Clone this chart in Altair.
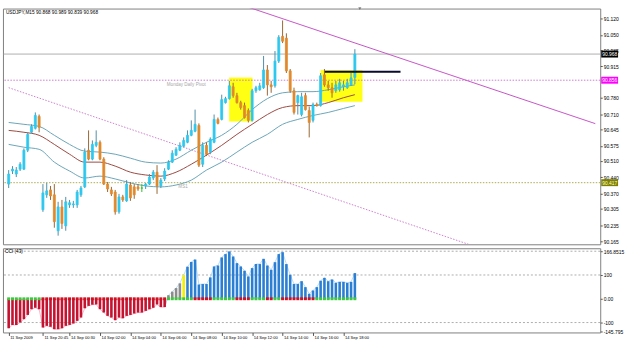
import altair as alt
import pandas as pd

# ---------------- data ----------------
bar_index = list(range(92))
open_ = [90.411, 90.467, 90.454, 90.475, 90.475, 90.556, 90.633, 90.650, 90.701,
         90.301, 90.365, 90.386, 90.365, 90.211, 90.313, 90.232, 90.322, 90.322, 90.322, 90.365, 90.399,
         90.556, 90.518, 90.577, 90.590, 90.518, 90.411, 90.386, 90.377, 90.292, 90.356, 90.339, 90.407, 90.399, 90.399, 90.394,
         90.403, 90.411, 90.437, 90.462, 90.403, 90.433, 90.475, 90.505, 90.535, 90.556, 90.573, 90.590, 90.620, 90.637,
         90.662, 90.496, 90.577, 90.548, 90.590, 90.688, 90.688, 90.760, 90.777, 90.828,
         90.790, 90.760, 90.747, 90.726, 90.684, 90.811, 90.815, 90.824, 90.900, 90.836,
         90.832, 90.938, 91.044, 91.036, 90.896, 90.811, 90.760, 90.709, 90.790, 90.726,
         90.684, 90.752, 90.747, 90.879, 90.836, 90.824, 90.811, 90.815, 90.828, 90.824, 90.836, 90.868]
high_ = [90.471, 90.488, 90.484, 90.505, 90.564, 90.633, 90.667, 90.718, 90.709,
         90.411, 90.416, 90.403, 90.411, 90.335, 90.343, 90.356, 90.343, 90.339, 90.386, 90.403, 90.564,
         90.641, 90.598, 90.641, 90.598, 90.526, 90.420, 90.399, 90.386, 90.369, 90.365, 90.428, 90.420, 90.411, 90.411, 90.411,
         90.416, 90.454, 90.471, 90.492, 90.437, 90.479, 90.513, 90.556, 90.569, 90.590, 90.611, 90.641, 90.684, 90.730,
         90.671, 90.590, 90.590, 90.611, 90.709, 90.696, 90.794, 90.785, 90.853, 90.845,
         90.802, 90.768, 90.760, 90.735, 90.819, 90.832, 90.845, 90.960, 90.921, 90.853,
         90.981, 91.049, 91.112, 91.057, 90.904, 90.824, 90.794, 90.802, 90.802, 90.743,
         90.760, 90.760, 90.887, 90.904, 90.853, 90.845, 90.853, 90.862, 90.853, 90.862, 90.887, 90.989]
low_ = [90.394, 90.454, 90.441, 90.467, 90.471, 90.548, 90.628, 90.645, 90.633,
        90.292, 90.352, 90.343, 90.224, 90.190, 90.219, 90.211, 90.309, 90.309, 90.309, 90.356, 90.394,
        90.513, 90.513, 90.569, 90.513, 90.407, 90.377, 90.360, 90.280, 90.284, 90.335, 90.335, 90.339, 90.348, 90.382, 90.377,
        90.390, 90.407, 90.428, 90.369, 90.394, 90.424, 90.471, 90.501, 90.531, 90.552, 90.569, 90.586, 90.616, 90.633,
        90.484, 90.484, 90.531, 90.539, 90.586, 90.667, 90.684, 90.756, 90.773, 90.781,
        90.756, 90.730, 90.692, 90.675, 90.679, 90.802, 90.811, 90.819, 90.790, 90.802,
        90.824, 90.930, 91.015, 90.887, 90.802, 90.709, 90.709, 90.701, 90.726, 90.611,
        90.675, 90.743, 90.743, 90.828, 90.811, 90.781, 90.802, 90.807, 90.811, 90.819, 90.832, 90.839]
close_ = [90.454, 90.475, 90.471, 90.496, 90.556, 90.624, 90.658, 90.705, 90.654,
          90.373, 90.382, 90.360, 90.250, 90.313, 90.242, 90.335, 90.331, 90.326, 90.377, 90.394, 90.548,
          90.518, 90.581, 90.590, 90.518, 90.411, 90.390, 90.369, 90.292, 90.356, 90.343, 90.411, 90.352, 90.365, 90.390, 90.394,
          90.411, 90.441, 90.462, 90.403, 90.428, 90.467, 90.505, 90.543, 90.560, 90.577, 90.598, 90.620, 90.641, 90.667,
          90.492, 90.577, 90.539, 90.603, 90.688, 90.671, 90.773, 90.777, 90.832, 90.790,
          90.760, 90.739, 90.696, 90.684, 90.811, 90.824, 90.832, 90.900, 90.836, 90.828,
          90.938, 91.040, 91.023, 90.896, 90.811, 90.718, 90.790, 90.785, 90.730, 90.675,
          90.752, 90.747, 90.875, 90.836, 90.824, 90.802, 90.836, 90.845, 90.836, 90.845, 90.866, 90.968]

cci_values = [-124, -110, -110, -100, -86, -68, -44, -38, -44,
              -121, -114, -118, -128, -128, -124, -114, -110, -104, -93, -79, -40,
              -30, -25, -24, -44, -58, -72, -79, -90, -79, -82, -72, -68, -62, -58, -58, -51, -44, -38, -24, -35, -35,
              15, 30, 45, 65, 100, 135, 155, 165, 60,
              62, 62, 90, 136, 140, 174, 188, 199, 178, 150, 136, 118, 94, 129, 146, 146, 168, 140, 122, 154,
              188, 196, 146, 101, 62, 62, 74, 49, 21, 35, 49, 76, 88, 74, 81, 67, 71, 71, 67, 71, 108]
cci_zone = ["neg"] * 42 + ["weak"] * 4 + ["turn"] + ["pos"] * 45
cci_signal = (["up"] * 9 + ["dn"] * 33 + ["up"] * 7 + ["dn"] * 5 + ["up"] * 6 + ["dn"] * 4
              + ["up"] * 4 + ["dn"] * 2 + ["up"] * 2 + ["dn"] * 9 + ["up"] * 11)

ma_index = list(range(0, 89, 4)) + [91]
ma_mid = [90.641, 90.633, 90.620, 90.581, 90.539, 90.505, 90.505, 90.488, 90.462, 90.450, 90.445, 90.462,
          90.496, 90.535, 90.577, 90.624, 90.667, 90.709, 90.739, 90.747, 90.747, 90.760, 90.781, 90.794]
ma_upper = [90.675, 90.667, 90.658, 90.620, 90.581, 90.552, 90.548, 90.539, 90.522, 90.505, 90.501, 90.518,
            90.556, 90.590, 90.620, 90.667, 90.730, 90.777, 90.802, 90.807, 90.807, 90.815, 90.828, 90.836]
ma_lower = [90.581, 90.569, 90.560, 90.505, 90.467, 90.437, 90.445, 90.433, 90.416, 90.403, 90.399, 90.407,
            90.428, 90.471, 90.505, 90.548, 90.590, 90.624, 90.667, 90.688, 90.705, 90.718, 90.735, 90.747]

# 90.845 is hidden under the pivot price tag in the reference
price_ticks = [91.120, 91.050, 90.985, 90.915, 90.780, 90.710, 90.645,
               90.575, 90.510, 90.440, 90.370, 90.305, 90.235, 90.165]
time_tick_index = [0, 9, 16, 24, 32, 40, 48, 56, 64, 72, 80, 88]
time_tick_labels = ["11 Sep 2009", "11 Sep 20:45", "14 Sep 00:30", "14 Sep 02:00", "14 Sep 04:00",
                    "14 Sep 06:00", "14 Sep 08:00", "14 Sep 10:00", "14 Sep 12:00", "14 Sep 14:00",
                    "14 Sep 16:00", "14 Sep 18:00"]
cci_axis_values = [200, 100, 0, -100, -137.5]
cci_levels = [200, 100, -100]

title_text = "USDJPY,M15  90.868 90.989 90.839 90.968"
last_price = 90.968
pivot_price = 90.856
ms1_price = 90.417
pivot_label_index = 51.8
ms1_label_index = 44.6
trend_index = [62.6, 154.2]
trend_price = [91.171, 90.670]
channel_index = [0.0, 154.2]
channel_price = [90.824, 89.968]
box_x1 = [57.95, 82.0]
box_x2 = [64.1, 93.0]
box_low = [90.679, 90.764]
box_high = [90.868, 90.900]
level_x1 = [83.1]
level_x2 = [103.0]
level_price = [90.892]
shift_marker_index = [92.3]

# ---------------- chart ----------------
FONT = "Liberation Sans"
XS = alt.Scale(domain=[-0.2, 154.2], nice=False, zero=False)
PY = alt.Scale(domain=[90.153, 91.163], nice=False, zero=False)
CY = alt.Scale(domain=[-141.7, 212.5], nice=False, zero=False)
W, H_MAIN, H_CCI = 603, 238, 85

price_axis = alt.Axis(orient="right", values=price_ticks, format=".3f", labelFontSize=5,
                      labelFont=FONT, labelColor="#000000", tickSize=2, tickColor="#555555",
                      labelPadding=1, domain=False, grid=False, title=None,
                      labelOverlap=False, labelFlush=False)

label_expr_time = ("[" + ",".join("'%s'" % s for s in time_tick_labels) + "][indexof(["
                   + ",".join(str(v) for v in time_tick_index) + "], datum.value)]")
time_axis = alt.Axis(values=time_tick_index, labelExpr=label_expr_time, labelAlign="left",
                     labelBaseline="top", labelFontSize=4.1, labelFont=FONT, labelColor="#000000",
                     tickSize=3, tickColor="#555555", labelPadding=0, labelOffset=1, domain=False,
                     grid=False, title=None, labelOverlap=False, labelFlush=False)
cci_axis = alt.Axis(orient="right", values=cci_axis_values,
                    labelExpr="datum.value == 200 ? '166.8515' : datum.value == 0 ? '0.00' : "
                              "datum.value < -120 ? '-145.795' : datum.value == -100 ? '-100' : '100'",
                    labelFontSize=5, labelFont=FONT, labelColor="#000000", tickSize=2,
                    tickColor="#555555", labelPadding=1, domain=False, grid=False, title=None,
                    labelOverlap=False, labelFlush=False)


def xq(f):
    return alt.X(f, type="quantitative", scale=XS, axis=None)


def py(f):
    return alt.Y(f, type="quantitative", scale=PY, axis=price_axis)


def xc(f):
    return alt.X(f, type="quantitative", scale=XS, axis=time_axis)


def yc(f):
    return alt.Y(f, type="quantitative", scale=CY, axis=cci_axis)


df = pd.DataFrame({"i": bar_index, "o": open_, "h": high_, "l": low_, "c": close_})
df["kind"] = ["bull" if c > o else ("bear" if c < o else "doji") for o, c in zip(open_, close_)]
kinds = ["bull", "bear", "doji"]
body_scale = alt.Scale(domain=kinds, range=["#2ec8ef", "#e0892c", "#33bb33"])
wick_scale = alt.Scale(domain=kinds, range=["#4f8fa8", "#9a6634", "#33bb33"])

boxes = alt.Chart(pd.DataFrame({"x1": box_x1, "x2": box_x2, "lo": box_low, "hi": box_high})).mark_rect(
    color="#ffff14").encode(x=xq("x1"), x2="x2", y=py("lo"), y2="hi")

hl = pd.DataFrame({"p": [last_price, pivot_price, ms1_price], "tag": ["last", "pivot", "s1"]})
last_line = alt.Chart(hl[hl.tag == "last"]).mark_rule(color="#9a9a9a", strokeWidth=0.8).encode(y=py("p"))
pivot_line = alt.Chart(hl[hl.tag == "pivot"]).mark_rule(color="#c86ccf", strokeWidth=0.9,
                                                        strokeDash=[1.5, 1.5]).encode(y=py("p"))
s1_line = alt.Chart(hl[hl.tag == "s1"]).mark_rule(color="#a3a33a", strokeWidth=0.9,
                                                  strokeDash=[1.5, 1.5]).encode(y=py("p"))

trend = alt.Chart(pd.DataFrame({"i": trend_index, "p": trend_price})).mark_line(
    color="#c655c6", strokeWidth=1, clip=True).encode(x=xq("i"), y=py("p"))
channel = alt.Chart(pd.DataFrame({"i": channel_index, "p": channel_price})).mark_line(
    color="#cf7fd0", strokeWidth=1, strokeDash=[1.5, 1.5], clip=True).encode(x=xq("i"), y=py("p"))

ma_df = pd.DataFrame({"i": ma_index, "mid": ma_mid, "up": ma_upper, "lo": ma_lower})
ma_up = alt.Chart(ma_df).mark_line(color="#6aa5b8", strokeWidth=1, interpolate="monotone").encode(
    x=xq("i"), y=py("up"))
ma_lo = alt.Chart(ma_df).mark_line(color="#6aa5b8", strokeWidth=1, interpolate="monotone").encode(
    x=xq("i"), y=py("lo"))
ma_md = alt.Chart(ma_df).mark_line(color="#9b4a42", strokeWidth=1, interpolate="monotone").encode(
    x=xq("i"), y=py("mid"))

wicks = alt.Chart(df).mark_rule(strokeWidth=1).encode(
    x=xq("i"), y=py("l"), y2="h",
    color=alt.Color("kind:N", scale=wick_scale, legend=None))
bodies = alt.Chart(df).mark_bar(size=2, strokeWidth=0.8).encode(
    x=xq("i"), y=py("o"), y2="c",
    fill=alt.Fill("kind:N", scale=body_scale, legend=None),
    stroke=alt.Stroke("kind:N", scale=body_scale, legend=None))

level_seg = alt.Chart(pd.DataFrame({"x1": level_x1, "x2": level_x2, "p": level_price})).mark_rule(
    color="#0a0a30", strokeWidth=2).encode(x=xq("x1"), x2="x2", y=py("p"))

title = alt.Chart(pd.DataFrame({"t": [title_text]})).mark_text(
    align="left", baseline="top", fontSize=4.8, font=FONT, color="#000000").encode(
    x=alt.value(3), y=alt.value(1), text="t:N")

pivot_text = alt.Chart(pd.DataFrame({"i": [pivot_label_index], "p": [pivot_price],
                                     "t": ["Monday  Daily Pivot"]})).mark_text(
    align="right", baseline="top", dy=1.5, fontSize=4.6, font=FONT, color="#a8a8a8").encode(
    x=xq("i"), y=py("p"), text="t:N")
ms1_text = alt.Chart(pd.DataFrame({"i": [ms1_label_index], "p": [ms1_price], "t": ["MS1"]})).mark_text(
    align="left", baseline="top", dy=1.5, fontSize=4.6, font=FONT, color="#a8a8a8").encode(
    x=xq("i"), y=py("p"), text="t:N")

marker = alt.Chart(pd.DataFrame({"i": shift_marker_index})).mark_point(
    shape="triangle-down", filled=True, color="#555555", size=10).encode(x=xq("i"), y=alt.value(0))

tag_kinds = ["last", "pivot", "s1"]
tag_bg = alt.Chart(hl).mark_rule(strokeWidth=7, strokeCap="butt").encode(
    x=alt.value(604), x2=alt.value(621), y=py("p"),
    stroke=alt.Stroke("tag:N", scale=alt.Scale(domain=tag_kinds, range=["#000000", "#ff00ff", "#7f7f00"]),
                      legend=None))
tag_tx = alt.Chart(hl).mark_text(align="left", baseline="middle", fontSize=5, font=FONT).encode(
    x=alt.value(605), y=py("p"), text=alt.Text("p:Q", format=".3f"),
    fill=alt.Fill("tag:N", scale=alt.Scale(domain=tag_kinds, range=["#ffffff", "#ffffff", "#ffffcc"]),
                  legend=None))

main = alt.layer(boxes, last_line, pivot_line, s1_line, channel, trend, ma_up, ma_lo, ma_md,
                 wicks, bodies, level_seg, pivot_text, ms1_text, title, marker, tag_bg, tag_tx).resolve_scale(
    color="independent", fill="independent", stroke="independent").properties(width=W, height=H_MAIN)

# ---- CCI panel ----
cdf = pd.DataFrame({"i": bar_index, "v": cci_values, "zone": cci_zone, "sig": cci_signal})

levels = alt.Chart(pd.DataFrame({"lv": cci_levels})).mark_rule(
    color="#8a8a8a", strokeWidth=0.7, strokeDash=[2, 2]).encode(y=yc("lv"))
cci_bars = alt.Chart(cdf).mark_bar(size=2.6).encode(
    x=xc("i"), y=yc("v"), y2=alt.datum(0),
    color=alt.Color("zone:N", scale=alt.Scale(domain=["neg", "weak", "turn", "pos"],
                                              range=["#c41230", "#8c8c8c", "#f0f000", "#2a7fd4"]),
                    legend=None))
cci_line_neg = alt.Chart(cdf).transform_filter("datum.i <= 42").mark_line(
    color="#f2a9c0", strokeWidth=0.8).encode(x=xc("i"), y=yc("v"))
cci_line_pos = alt.Chart(cdf).transform_filter("datum.i >= 41").mark_line(
    color="#a6d4f2", strokeWidth=0.8).encode(x=xc("i"), y=yc("v"))
squares = alt.Chart(cdf).mark_bar(size=3).encode(
    x=xc("i"), y=alt.Y(datum=-6, type="quantitative", scale=CY, axis=cci_axis), y2=alt.datum(6),
    fill=alt.Fill("sig:N", scale=alt.Scale(domain=["up", "dn"], range=["#3cc83c", "#d01020"]),
                  legend=None))
cci_title = alt.Chart(pd.DataFrame({"t": ["CCI (43)"]})).mark_text(
    align="left", baseline="top", fontSize=4.8, font=FONT, color="#000000").encode(
    x=alt.value(2), y=alt.value(1), text="t:N")

cci = alt.layer(levels, cci_line_neg, cci_line_pos, cci_bars, squares, cci_title).resolve_scale(
    color="independent", fill="independent").properties(width=W, height=H_CCI)

chart = alt.vconcat(main, cci, spacing=2).properties(
    padding={"left": 2, "top": 5, "right": 0, "bottom": 0}, background="#ffffff"
).configure_view(stroke="#808080", strokeWidth=1)

chart.save("out.html", embed_options={"renderer": "svg", "actions": False})
